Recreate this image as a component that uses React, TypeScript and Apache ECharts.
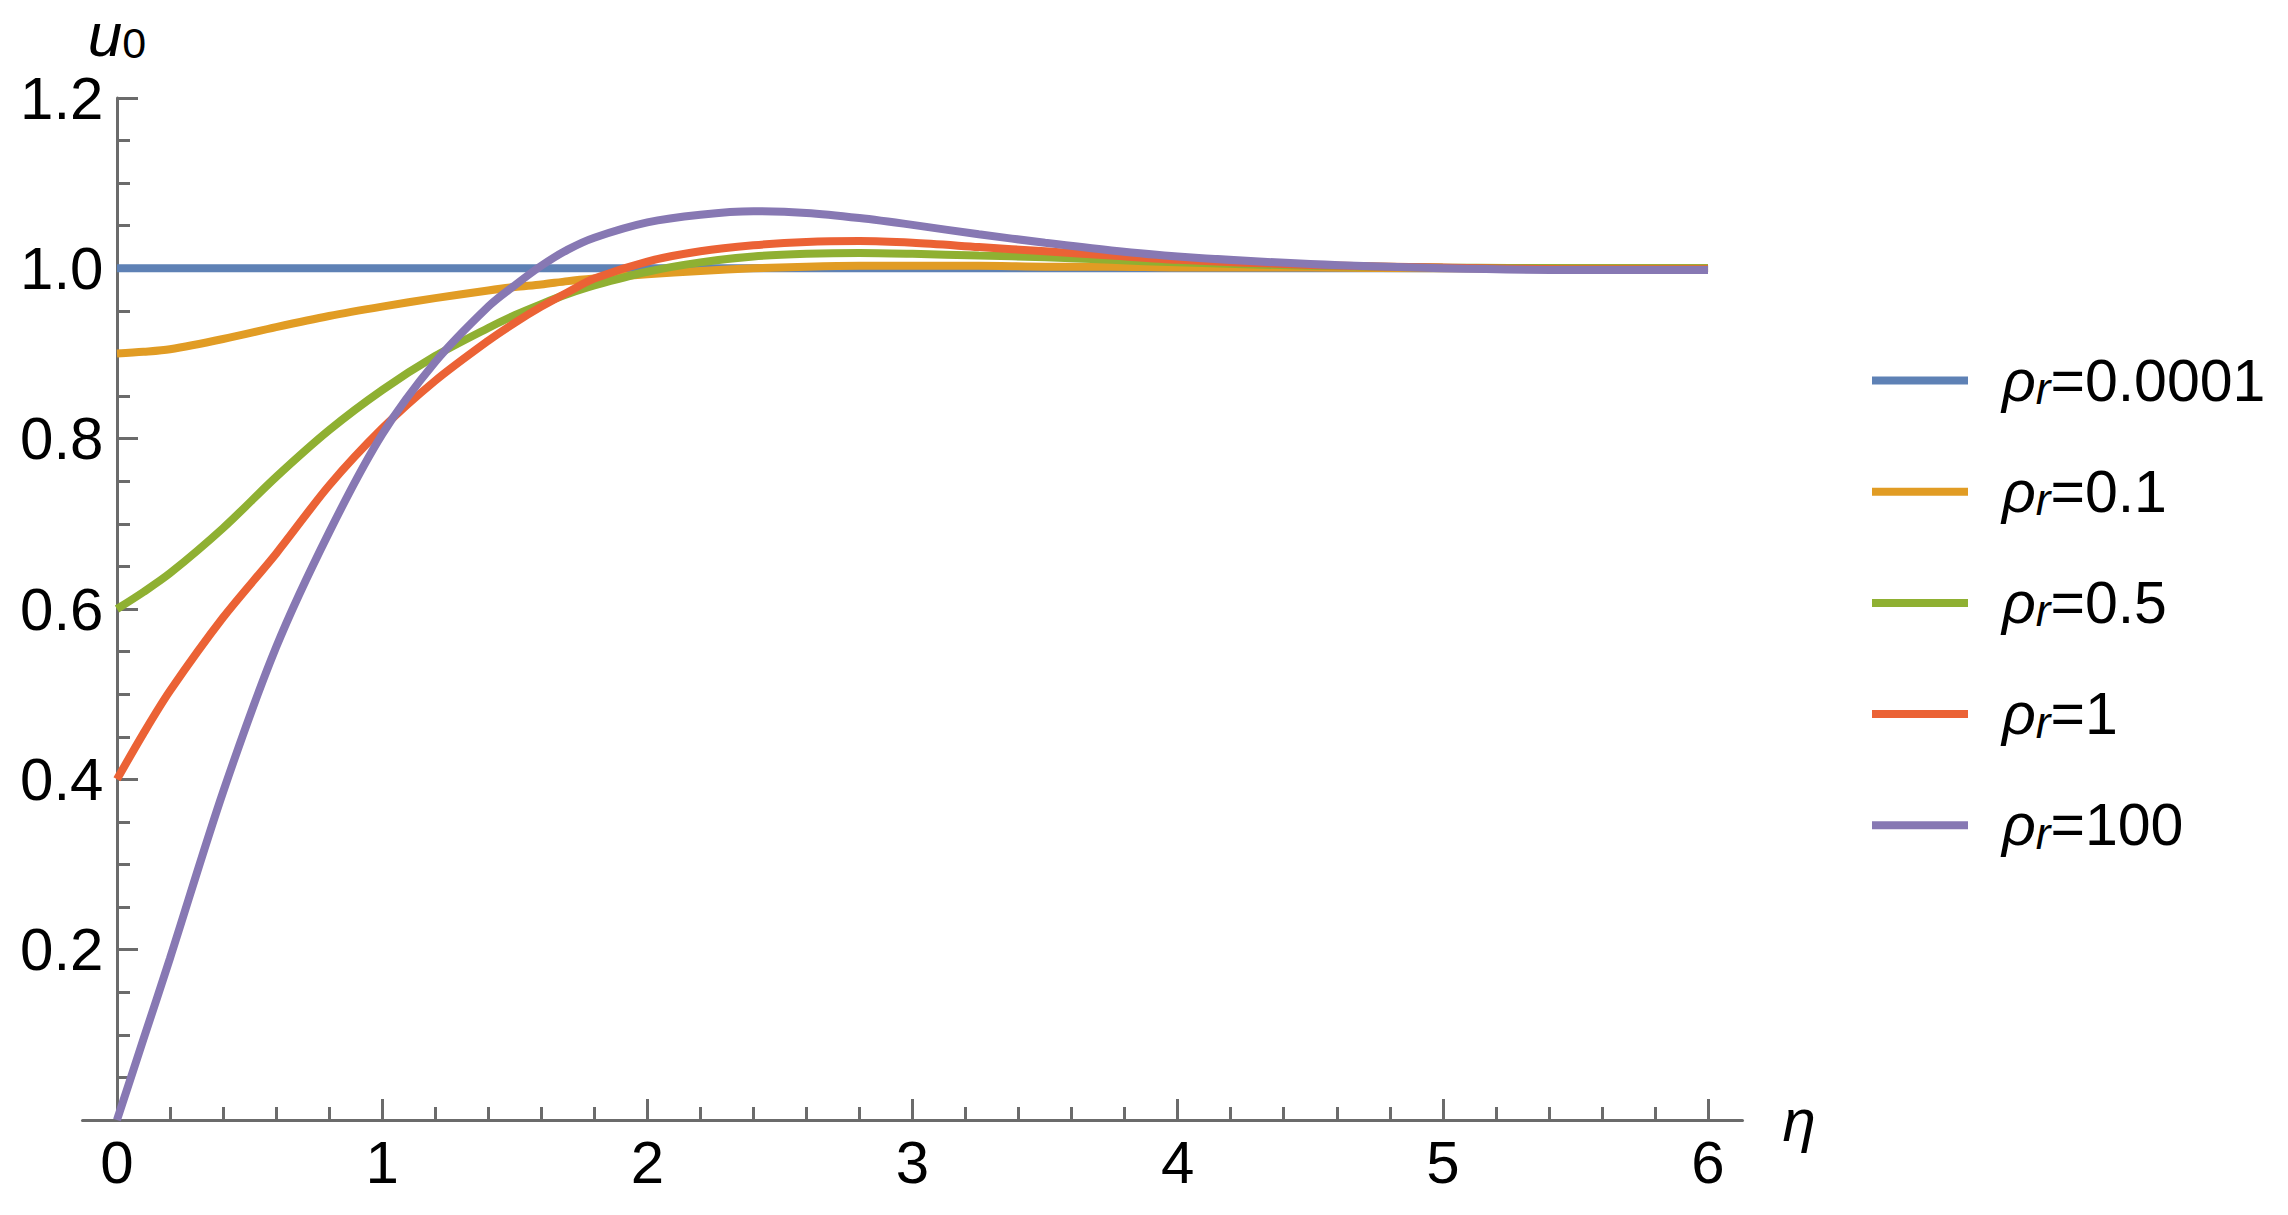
import { useEffect, useRef } from 'react';
import * as echarts from 'echarts';

// η grid shared by every curve
const ETA = [0, 0.1, 0.2, 0.4, 0.6, 0.8, 1.0, 1.2, 1.4, 1.5, 1.6, 1.7, 1.8, 2.0, 2.2, 2.4, 2.6, 2.8, 3.0, 3.25, 3.5, 3.75, 4.0, 4.5, 5.0, 5.5, 6.0];

// u0, one list per ρr
const U_RHO_0001 = [1, 1, 1, 1, 1, 1, 1, 1, 1, 1, 1, 1, 1, 1, 1, 1, 1, 1, 1, 1, 1, 1, 1, 1, 1, 1, 1];
const U_RHO_01 = [0.9, 0.902, 0.905, 0.917, 0.931, 0.944, 0.955, 0.965, 0.974, 0.978, 0.981, 0.985, 0.988, 0.993, 0.997, 1.0, 1.002, 1.003, 1.003, 1.003, 1.002, 1.002, 1.001, 1.001, 1.0, 1.0, 1.0];
const U_RHO_05 = [0.6, 0.62, 0.642, 0.695, 0.755, 0.81, 0.857, 0.897, 0.93, 0.945, 0.958, 0.97, 0.98, 0.996, 1.007, 1.014, 1.017, 1.018, 1.017, 1.015, 1.013, 1.01, 1.007, 1.003, 1.001, 1.0, 1.0];
const U_RHO_1 = [0.4, 0.454, 0.504, 0.59, 0.665, 0.745, 0.812, 0.868, 0.915, 0.936, 0.955, 0.972, 0.988, 1.008, 1.02, 1.027, 1.031, 1.032, 1.03, 1.025, 1.02, 1.015, 1.01, 1.004, 1.001, 0.999, 0.999];
const U_RHO_100 = [0, 0.095, 0.19, 0.385, 0.555, 0.69, 0.805, 0.89, 0.955, 0.98, 1.003, 1.022, 1.036, 1.054, 1.063, 1.067, 1.065, 1.059, 1.051, 1.04, 1.03, 1.021, 1.014, 1.005, 1.0, 0.998, 0.998];

const RHO_LABELS = ['0.0001', '0.1', '0.5', '1', '100'];
const SERIES_VALUES = [U_RHO_0001, U_RHO_01, U_RHO_05, U_RHO_1, U_RHO_100];
const COLORS = ['#5E81B5', '#E19C24', '#8FB032', '#EB6235', '#8778B3'];

const X_MAJOR_TICKS = [0, 1, 2, 3, 4, 5, 6];
const X_MINOR_STEP = 0.2;

const FONT = '"Liberation Sans", Arial, sans-serif';
const AXIS_COLOR = '#6b6b6b';

export default function App() {
  const ref = useRef<HTMLDivElement>(null);

  useEffect(() => {
    const dom = ref.current;
    if (!dom) return;
    const chart = echarts.init(dom, null, { renderer: 'svg' });

    const minorTicks: number[] = [];
    for (let i = 0; i < X_MAJOR_TICKS.length - 1; i++) {
      for (let k = 1; k < 5; k++) minorTicks.push(+(X_MAJOR_TICKS[i] + k * X_MINOR_STEP).toFixed(2));
    }

    const series = RHO_LABELS.map((rho, i) => ({
      type: 'line',
      name: `ρr=${rho}`,
      data: ETA.map((x, j) => [x, SERIES_VALUES[i][j]]),
      showSymbol: false,
      smooth: 0.3,
      lineStyle: { color: COLORS[i], width: 8 },
      itemStyle: { color: COLORS[i] },
      xAxisIndex: 0,
      yAxisIndex: 0,
    }));

    chart.setOption({
      animation: false,
      backgroundColor: '#fff',
      textStyle: { fontFamily: FONT },
      grid: { left: 82.5, right: 545.5, top: 98, bottom: 95, containLabel: false, outerBoundsMode: 'none' },
      legend: {
        orient: 'vertical',
        left: 1872,
        top: 351,
        padding: 0,
        itemGap: 51.7,
        itemWidth: 96,
        itemHeight: 8,
        icon: 'rect',
        data: RHO_LABELS.map((r) => `ρr=${r}`),
        formatter: (name: string) => `{rho|ρ}{r|r}{t|${name.slice(2)}}`,
        textStyle: {
          fontFamily: FONT,
          fontSize: 59,
          color: '#000',
          padding: [0, 0, 0, 29],
          rich: {
            rho: { fontFamily: FONT, fontStyle: 'italic', fontSize: 59, lineHeight: 60, color: '#000' },
            r: { fontFamily: FONT, fontStyle: 'italic', fontSize: 44, lineHeight: 30, verticalAlign: 'bottom', color: '#000' },
            t: { fontFamily: FONT, fontSize: 59, lineHeight: 60, color: '#000' },
          },
        },
      },
      xAxis: [
        {
          type: 'value',
          min: -0.13,
          max: 6.13,
          position: 'bottom',
          name: 'η',
          nameLocation: 'end',
          nameGap: 40,
          nameTextStyle: { fontFamily: FONT, fontStyle: 'italic', fontSize: 60, color: '#000', padding: [0, 0, 16, 0] },
          axisLine: { show: true, lineStyle: { color: AXIS_COLOR, width: 3 } },
          axisTick: { show: true, inside: true, length: 21, customValues: X_MAJOR_TICKS, lineStyle: { color: AXIS_COLOR, width: 3 } },
          axisLabel: { customValues: X_MAJOR_TICKS, fontFamily: FONT, fontSize: 60, color: '#000', margin: 12 },
          splitLine: { show: false },
        },
        {
          type: 'value',
          min: -0.13,
          max: 6.13,
          position: 'bottom',
          axisLine: { show: false },
          axisTick: { show: true, inside: true, length: 13, customValues: minorTicks, lineStyle: { color: AXIS_COLOR, width: 3 } },
          axisLabel: { show: false },
          splitLine: { show: false },
        },
      ],
      yAxis: {
        type: 'value',
        min: 0,
        max: 1.2,
        interval: 0.2,
        name: '{u|u}{s|0}',
        nameLocation: 'end',
        nameGap: 34,
        nameTextStyle: {
          rich: {
            u: { fontFamily: FONT, fontStyle: 'italic', fontSize: 62, lineHeight: 60, color: '#000' },
            s: { fontFamily: FONT, fontSize: 43, lineHeight: 30, verticalAlign: 'bottom', color: '#000' },
          },
        },
        axisLine: { show: true, onZero: true, onZeroAxisIndex: 0, lineStyle: { color: AXIS_COLOR, width: 3 } },
        axisTick: { show: true, inside: true, length: 21, lineStyle: { color: AXIS_COLOR, width: 3 } },
        minorTick: { show: true, splitNumber: 4, length: 13, lineStyle: { color: AXIS_COLOR, width: 3 } },
        axisLabel: {
          fontFamily: FONT,
          fontSize: 60,
          color: '#000',
          margin: -21,
          formatter: (v: number) => (v === 0 ? '' : v.toFixed(1)),
        },
        splitLine: { show: false },
      },
      series,
    } as echarts.EChartsOption);

    return () => {
      chart.dispose();
    };
  }, []);

  return (
    <div
      ref={ref}
      style={{ position: 'absolute', left: 0, top: 0, width: 2288, height: 1215, background: '#fff' }}
    />
  );
}
